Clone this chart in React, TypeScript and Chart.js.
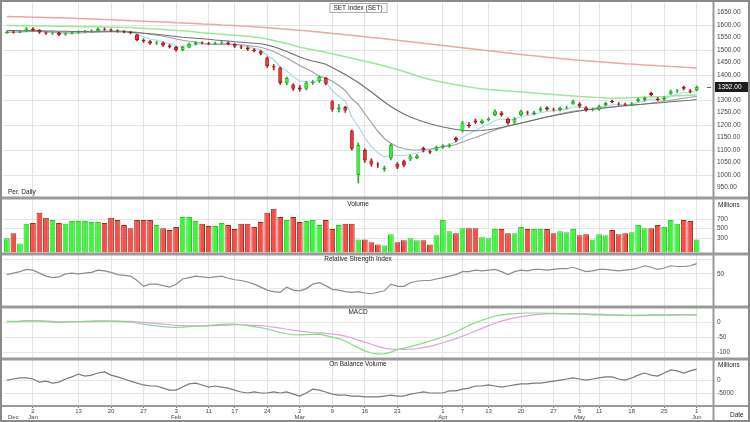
import React, { useEffect, useRef } from "react";
import { Chart, registerables } from "chart.js";

Chart.register(...registerables);

const dates = [
  "2019-12-25","2019-12-26","2019-12-27","2019-12-30",
  "2020-01-02","2020-01-03","2020-01-06","2020-01-07","2020-01-08","2020-01-09","2020-01-10","2020-01-13","2020-01-14","2020-01-15","2020-01-16","2020-01-17","2020-01-20","2020-01-21","2020-01-22","2020-01-23","2020-01-24","2020-01-27","2020-01-28","2020-01-29","2020-01-30","2020-01-31",
  "2020-02-03","2020-02-04","2020-02-05","2020-02-06","2020-02-07","2020-02-11","2020-02-12","2020-02-13","2020-02-14","2020-02-17","2020-02-18","2020-02-19","2020-02-20","2020-02-21","2020-02-24","2020-02-25","2020-02-26","2020-02-27","2020-02-28",
  "2020-03-02","2020-03-03","2020-03-04","2020-03-05","2020-03-06","2020-03-09","2020-03-10","2020-03-11","2020-03-12","2020-03-13","2020-03-16","2020-03-17","2020-03-18","2020-03-19","2020-03-20","2020-03-23","2020-03-24","2020-03-25","2020-03-26","2020-03-27","2020-03-30","2020-03-31",
  "2020-04-01","2020-04-02","2020-04-03","2020-04-07","2020-04-08","2020-04-09","2020-04-10","2020-04-13","2020-04-14","2020-04-15","2020-04-16","2020-04-17","2020-04-20","2020-04-21","2020-04-22","2020-04-23","2020-04-24","2020-04-27","2020-04-28","2020-04-29","2020-04-30",
  "2020-05-05","2020-05-07","2020-05-08","2020-05-11","2020-05-12","2020-05-13","2020-05-14","2020-05-15","2020-05-18","2020-05-19","2020-05-20","2020-05-21","2020-05-22","2020-05-25","2020-05-26","2020-05-27","2020-05-28","2020-05-29",
  "2020-06-01"
];

const opens = [
  1568,1572,1570,1575,1585,1580,1570,1566,1570,1562,
  1566,1570,1573,1575,1577,1585,1582,1578,1575,1572,
  1562,1540,1535,1526,1530,1518,1512,1500,1510,1524,
  1530,1528,1525,1528,1530,1524,1514,1510,1502,1495,
  1470,1435,1430,1366,1362,1350,1345,1368,1375,1388,
  1295,1262,1272,1178,1000,1100,1058,1042,1022,1068,
  1045,1055,1062,1068,1108,1095,1100,1110,1115,1148,
  1175,1200,1218,1208,1220,1240,1250,1225,1210,1240,
  1250,1244,1258,1270,1264,1260,1266,1285,1285,1270,
  1262,1262,1280,1296,1285,1284,1282,1295,1300,1328,
  1305,1302,1325,1334,1352,1338,1340
];
const highs = [
  1576,1576,1577,1590,1590,1582,1573,1572,1572,1569,
  1574,1577,1579,1581,1589,1588,1585,1581,1578,1575,
  1564,1545,1538,1534,1533,1522,1515,1515,1528,1534,
  1533,1531,1532,1534,1533,1526,1518,1513,1506,1498,
  1472,1442,1432,1392,1365,1358,1374,1378,1396,1390,
  1298,1282,1275,1180,1128,1105,1065,1050,1036,1125,
  1050,1060,1080,1082,1112,1100,1116,1122,1125,1152,
  1215,1210,1224,1222,1230,1262,1254,1228,1230,1260,
  1256,1255,1272,1274,1268,1272,1276,1300,1290,1274,
  1268,1280,1292,1300,1290,1288,1290,1308,1312,1332,
  1310,1314,1340,1342,1356,1342,1356
];
const lows = [
  1566,1567,1568,1573,1576,1566,1562,1562,1557,1559,
  1564,1567,1570,1572,1575,1578,1574,1571,1568,1564,
  1536,1530,1522,1522,1514,1508,1495,1497,1508,1520,
  1524,1521,1522,1524,1520,1510,1505,1498,1492,1480,
  1430,1420,1362,1360,1338,1335,1340,1362,1370,1360,
  1255,1252,1250,1100,968,1050,1035,1030,1015,1060,
  1025,1032,1058,1064,1092,1085,1096,1106,1110,1132,
  1172,1190,1205,1204,1216,1236,1235,1202,1206,1236,
  1242,1240,1254,1258,1256,1256,1264,1282,1270,1255,
  1256,1258,1276,1288,1278,1278,1278,1292,1296,1316,
  1296,1298,1322,1330,1340,1328,1336
];
const closes = [
  1572,1570,1574,1586,1580,1570,1566,1568,1561,1566,
  1570,1573,1575,1577,1585,1582,1578,1575,1572,1568,
  1540,1535,1526,1530,1518,1512,1500,1512,1525,1530,
  1528,1525,1528,1530,1524,1514,1510,1502,1496,1485,
  1435,1430,1368,1388,1345,1342,1370,1372,1392,1365,
  1262,1270,1258,1105,1120,1058,1042,1040,1030,1120,
  1030,1038,1075,1078,1098,1090,1112,1118,1120,1138,
  1210,1196,1210,1218,1225,1255,1240,1207,1225,1255,
  1247,1250,1266,1262,1262,1268,1270,1295,1275,1260,
  1263,1275,1288,1292,1283,1282,1286,1303,1308,1320,
  1300,1310,1335,1338,1345,1333,1352
];

const maFast = [
  1571,1571,1572,1577,1578,1575,1572,1571,1567,1567,
  1568,1570,1572,1574,1578,1579,1579,1577,1575,1573,
  1562,1553,1544,1539,1532,1525,1517,1515,1518,1522,
  1524,1524,1525,1527,1526,1522,1518,1513,1507,1500,
  1478,1462,1431,1417,1393,1376,1374,1373,1379,1374,
  1337,1315,1296,1232,1195,1149,1113,1089,1072,1080,
  1078,1078,1082,1088,1095,1100,1106,1115,1122,1132,
  1150,1164,1179,1192,1203,1218,1225,1220,1222,1233,
  1238,1242,1250,1254,1257,1261,1264,1272,1273,1269,
  1267,1270,1276,1281,1282,1282,1283,1290,1296,1304,
  1303,1305,1315,1323,1330,1331,1338
];
const ma10 = [
  1572,1572,1572,1573,1574,1574,1573,1572,1570,1569,
  1568,1568,1569,1570,1572,1573,1574,1575,1575,1574,
  1571,1567,1563,1559,1555,1550,1544,1539,1535,1531,
  1527,1523,1522,1522,1523,1523,1521,1518,1515,1511,
  1503,1494,1481,1468,1453,1438,1425,1412,1395,1388,
  1375,1358,1338,1305,1282,1245,1210,1175,1146,1127,
  1113,1105,1101,1100,1102,1104,1108,1112,1116,1122,
  1132,1142,1150,1160,1170,1180,1188,1195,1201,1207,
  1213,1220,1227,1233,1239,1245,1250,1255,1258,1261,
  1263,1266,1269,1272,1274,1276,1278,1281,1284,1288,
  1291,1295,1299,1303,1307,1311,1315
];
const ma25 = [
  1578,1578,1577,1577,1577,1577,1576,1576,1575,1575,
  1574,1574,1574,1573,1573,1573,1573,1573,1572,1571,
  1569,1567,1565,1563,1560,1557,1554,1551,1549,1547,
  1545,1543,1540,1538,1536,1533,1531,1529,1527,1525,
  1520,1513,1504,1494,1483,1472,1463,1456,1450,1443,
  1430,1416,1402,1386,1370,1351,1332,1312,1292,1274,
  1258,1244,1232,1222,1213,1205,1198,1192,1187,1182,
  1179,1177,1177,1178,1181,1185,1190,1196,1202,1208,
  1214,1220,1226,1232,1237,1242,1247,1252,1256,1260,
  1263,1266,1269,1272,1275,1278,1280,1282,1284,1286,
  1288,1290,1293,1295,1297,1299,1302
];
const ma75 = [
  1598,1598,1597,1597,1597,1596,1596,1596,1595,1595,
  1594,1594,1593,1593,1592,1592,1591,1591,1590,1590,
  1588,1587,1585,1584,1582,1580,1578,1577,1575,1572,
  1569,1567,1565,1563,1561,1559,1557,1555,1552,1549,
  1544,1538,1532,1526,1519,1511,1506,1501,1496,1491,
  1485,1479,1473,1467,1461,1455,1449,1443,1436,1429,
  1422,1414,1406,1397,1389,1382,1376,1371,1366,1361,
  1357,1352,1348,1345,1342,1340,1338,1336,1334,1332,
  1330,1328,1326,1324,1322,1320,1318,1316,1314,1313,
  1311,1310,1308,1307,1307,1308,1309,1310,1311,1312,
  1313,1314,1316,1317,1318,1319,1320
];
const ma200 = [
  1634,1633,1633,1632,1631,1631,1630,1629,1629,1628,
  1627,1626,1625,1624,1623,1622,1621,1620,1619,1617,
  1616,1615,1614,1613,1612,1611,1609,1608,1607,1606,
  1604,1603,1602,1600,1599,1598,1596,1595,1593,1591,
  1589,1587,1585,1583,1581,1579,1577,1574,1572,1569,
  1566,1564,1561,1559,1556,1553,1550,1548,1545,1542,
  1539,1536,1533,1530,1527,1524,1521,1518,1515,1512,
  1509,1506,1503,1500,1497,1494,1491,1488,1485,1482,
  1479,1477,1474,1471,1469,1466,1464,1461,1459,1457,
  1455,1453,1451,1449,1447,1445,1444,1442,1440,1439,
  1437,1436,1434,1433,1431,1430,1428
];

const volumes = [
  300,405,190,600,620,830,725,680,620,600,
  660,660,660,640,640,620,725,680,575,510,
  680,680,680,575,510,470,535,745,745,660,
  600,555,555,620,575,490,600,600,535,640,
  830,915,745,680,745,640,660,680,575,680,
  490,575,600,600,275,275,215,170,150,385,
  215,255,300,255,255,170,360,680,445,405,
  510,510,510,320,300,490,490,405,405,535,
  490,490,490,490,405,445,425,490,360,385,
  275,385,360,470,385,405,425,575,510,510,
  575,535,680,600,680,660,275
];

const rsi = [
  49,51,53,56,55,51,47,45,46,50,
  51,50,51,52,55,54,52,49,48,47,
  41,33,36,36,34,32,36,43,45,47,
  46,45,46,47,44,42,41,39,36,32,
  28,26,25,32,28,27,30,36,38,34,
  29,28,26,25,26,24,23,25,27,36,
  33,33,38,40,41,41,43,45,47,49,
  53,53,55,54,55,56,53,49,53,55,
  54,56,56,55,56,57,57,59,56,53,
  54,56,56,55,54,55,56,58,61,59,
  56,58,61,60,60,61,64
];

const macd = [
  2,2,3,5,5,4,2,0,-1,0,
  1,1,2,3,4,4,3,2,1,0,
  -4,-7,-10,-13,-15,-17,-18,-17,-15,-14,
  -13,-11,-9,-8,-7,-7,-9,-12,-15,-19,
  -23,-29,-35,-39,-42,-43,-42,-41,-40,-45,
  -50,-55,-63,-75,-86,-96,-103,-107,-106,-100,
  -92,-87,-82,-76,-70,-63,-57,-50,-42,-33,
  -22,-11,-2,6,13,20,24,26,28,29,
  30,30,30,29,29,28,27,27,26,25,
  24,24,23,23,23,22,22,23,23,24,
  24,24,24,25,25,24,24
];
const macdSignal = [
  1,1,2,3,3,4,3,2,1,1,
  1,1,1,2,2,3,3,3,2,2,
  1,-1,-3,-5,-7,-9,-11,-12,-13,-13,
  -13,-13,-12,-11,-10,-9,-9,-10,-11,-12,
  -14,-17,-20,-24,-27,-30,-33,-35,-36,-38,
  -40,-43,-47,-53,-60,-67,-74,-81,-87,-90,
  -91,-91,-90,-88,-85,-81,-75,-69,-62,-55,
  -47,-39,-30,-21,-12,-4,3,9,14,18,
  21,24,26,27,28,28,28,28,27,27,
  26,26,25,24,23,22,21,21,21,22,
  22,23,23,23,24,24,24
];

const obv = [
  0,400,800,800,400,-800,-400,-1200,-800,400,
  1200,2300,1500,1900,2700,3100,1900,1200,400,-400,
  -1200,-1900,-2300,-2300,-3100,-3900,-3900,-2700,-1500,-1200,
  -1900,-2700,-2300,-2700,-3100,-3900,-4600,-5000,-4600,-5000,
  -5000,-4600,-5000,-4600,-5400,-6200,-5000,-3500,-3900,-4600,
  -5400,-5800,-5800,-6200,-6200,-6500,-6500,-6500,-6200,-5800,
  -6200,-6200,-5400,-5000,-4600,-5000,-5000,-5000,-4200,-4200,
  -3500,-3100,-2300,-2300,-1900,-2300,-2700,-2300,-1900,-1500,
  -1500,-1200,-1200,-800,-400,0,400,800,400,0,
  400,800,1200,1200,400,0,800,1900,2700,1900,
  1500,2700,3900,3500,2700,3500,4200
];

const priceTicks = [950,1000,1050,1100,1150,1200,1250,1300,1350,1400,1450,1500,1550,1600,1650];
const volumeTicks = [300, 500, 700];
const rsiTicks = [30, 50, 70];
const rsiLabelled = [50];
const macdTicks = [0, -50, -100];
const obvTicks = [0, -5000];
const monthNames = ["Jan","Feb","Mar","Apr","May","Jun","Jul","Aug","Sep","Oct","Nov","Dec"];
const titlePrice = "SET Index (SET)";
const titleVolume = "Volume";
const titleRsi = "Relative Strength Index";
const titleMacd = "MACD";
const titleObv = "On Balance Volume";

const FONT = "'Liberation Sans', Arial, sans-serif";

export default function App() {
  const ref = useRef<HTMLCanvasElement>(null);

  useEffect(() => {
    document.body.style.margin = "0";
    const canvas = ref.current;
    if (!canvas) return;

    const parsed = dates.map((d) => new Date(d + "T00:00:00Z"));
    const isMonthStart = (i: number) =>
      i === 0 || parsed[i].getUTCMonth() !== parsed[i - 1].getUTCMonth();
    const isWeekStart = (i: number) =>
      i > 0 &&
      (parsed[i].getUTCDay() < parsed[i - 1].getUTCDay() ||
        parsed[i].getTime() - parsed[i - 1].getTime() >= 7 * 864e5);
    const monthIdx = dates.map((_, i) => i).filter(isMonthStart);
    const weekIdx = dates
      .map((_, i) => i)
      .filter((i) => isWeekStart(i) && !isMonthStart(i))
      .filter((i) => monthIdx.every((m) => Math.abs(m - i) > 2));
    const xTicks = [...monthIdx, ...weekIdx].filter((i) => i > 0).sort((a, b) => a - b);
    const firstMonth = monthNames[parsed[0].getUTCMonth()];
    const xLabel = (v: number) => {
      const i = Math.round(v);
      const d = parsed[i];
      const top = String(d.getUTCDate());
      const bottom = isMonthStart(i) ? monthNames[d.getUTCMonth()] : "";
      return [top, bottom];
    };

    const up = closes.map((c, i) => c >= opens[i]);
    const pts = (arr: number[]) => arr.map((v, i) => ({ x: i, y: v }));

    const line = (label: string, data: number[], color: string, axis: string, width = 1.2) => ({
      type: "line" as const,
      label,
      data: pts(data),
      yAxisID: axis,
      borderColor: color,
      borderWidth: width,
      pointRadius: 0,
      tension: 0,
      order: 5,
    });

    const tickFont = { size: 6.5, family: FONT };
    const yScale = (
      min: number,
      max: number,
      weight: number,
      ticks: number[],
      fmt: (v: number) => string,
      gridFn?: (v: number) => string
    ) => ({
      type: "linear" as const,
      position: "right" as const,
      stack: "panels",
      stackWeight: weight,
      min,
      max,
      afterFit: (s: any) => {
        s.width = 37;
        s.paddingTop = 0;
        s.paddingBottom = 0;
      },
      afterBuildTicks: (s: any) => {
        s.ticks = ticks.map((v) => ({ value: v }));
      },
      ticks: {
        autoSkip: false,
        font: tickFont,
        color: "#444",
        padding: 4,
        crossAlign: "near" as const,
        callback: (v: any) => fmt(Number(v)),
      },
      grid: {
        drawTicks: false,
        color: (ctx: any) => (gridFn ? gridFn(ctx.tick ? ctx.tick.value : 0) : "#e6e6e6"),
      },
      border: { display: false },
    });

    const overlay = {
      id: "overlay",
      beforeDraw(chart: any) {
        const c = chart.ctx;
        c.save();
        c.fillStyle = "#ffffff";
        c.fillRect(0, 0, chart.width, chart.height);
        c.restore();
      },
      afterDraw(chart: any) {
        const c = chart.ctx;
        const a = chart.chartArea;
        const s = chart.scales;
        const W = chart.width;
        const H = chart.height;
        c.save();
        const cx = (a.left + a.right) / 2;

        // panel separators
        c.strokeStyle = "#9a9a9a";
        c.lineWidth = 3;
        ["yP", "yV", "yR", "yM"].forEach((id) => {
          const y = s[id].bottom;
          c.beginPath();
          c.moveTo(0, y);
          c.lineTo(W, y);
          c.stroke();
        });
        c.lineWidth = 2;
        c.beginPath();
        c.moveTo(0, a.bottom);
        c.lineTo(W, a.bottom);
        c.stroke();
        c.beginPath();
        c.moveTo(a.right + 0.5, 0);
        c.lineTo(a.right + 0.5, H);
        c.stroke();
        c.lineWidth = 2;
        c.strokeStyle = "#8a8a8a";
        c.strokeRect(1, 1, W - 2, H - 2);

        // panel titles
        c.font = `6.5px ${FONT}`;
        c.textBaseline = "middle";
        c.textAlign = "center";
        const tw = c.measureText(titlePrice).width;
        c.fillStyle = "#ffffff";
        c.fillRect(cx - tw / 2 - 4, a.top, tw + 8, 9);
        c.strokeStyle = "#b0b0b0";
        c.lineWidth = 1;
        c.strokeRect(cx - tw / 2 - 4 + 0.5, a.top + 0.5, tw + 8, 9);
        c.fillStyle = "#222";
        c.fillText(titlePrice, cx, a.top + 5);
        c.fillText(titleVolume, cx, s.yV.top + 6);
        c.fillText(titleRsi, cx, s.yR.top + 5);
        c.fillText(titleMacd, cx, s.yM.top + 5);
        c.fillText(titleObv, cx, s.yO.top + 5);

        // axis captions
        c.textAlign = "left";
        c.fillText("Millions", a.right + 5, s.yV.top + 7);
        c.fillText("Millions", a.right + 5, s.yO.top + 6);
        c.fillText("Date", a.right + 17, H - 7);
        c.fillText("Per. Daily", a.left + 5, s.yP.bottom - 6);
        c.font = `6px ${FONT}`;
        c.fillStyle = "#444";
        c.fillText(firstMonth, a.left + 5, H - 5);

        // last price marker
        c.font = `6.5px ${FONT}`;
        const last = closes[closes.length - 1];
        const py = s.yP.getPixelForValue(last);
        c.fillStyle = "#1c1c1c";
        c.fillRect(a.right + 2, py - 5, W - a.right - 4, 10);
        c.fillStyle = "#ffffff";
        c.fillText(last.toFixed(2), a.right + 5, py);
        c.strokeStyle = "#666";
        c.lineWidth = 1;
        c.beginPath();
        c.moveTo(a.right - 6, py + 0.5);
        c.lineTo(a.right - 2, py + 0.5);
        c.stroke();
        c.restore();
      },
    };

    const chart = new Chart(canvas, {
      type: "bar",
      data: {
        datasets: [
          {
            type: "bar",
            label: "Wick",
            data: dates.map((_, i) => ({ x: i, y: [lows[i], highs[i]] })),
            yAxisID: "yP",
            backgroundColor: up.map((u) => (u ? "#2aa52a" : "#b02020")),
            barThickness: 1,
            grouped: false,
            order: 3,
          } as any,
          {
            type: "bar",
            label: "Body",
            data: dates.map((_, i) => ({ x: i, y: [opens[i], closes[i]] })),
            yAxisID: "yP",
            backgroundColor: up.map((u) => (u ? "#3cf03c" : "#ee3030")),
            borderColor: up.map((u) => (u ? "#22b022" : "#9a1a1a")),
            borderWidth: 1,
            borderSkipped: false,
            barPercentage: 0.62,
            categoryPercentage: 1,
            grouped: false,
            order: 1,
          } as any,
          line("MA200", ma200, "#f2a4a4", "yP", 1.5),
          line("MA75", ma75, "#9ae89a", "yP", 1.5),
          line("MA25", ma25, "#6e6e6e", "yP", 1.2),
          line("MA10", ma10, "#a0a0a0", "yP", 1.2),
          line("MA5", maFast, "#a6d8ee", "yP", 1.2),
          {
            type: "bar",
            label: "Volume",
            data: pts(volumes),
            yAxisID: "yV",
            backgroundColor: up.map((u) => (u ? "#3cf53c" : "#ff4a4a")),
            borderColor: up.map((u) => (u ? "#30c830" : "#8a3418")),
            borderWidth: 1,
            barPercentage: 0.88,
            categoryPercentage: 1,
            grouped: false,
            order: 2,
          } as any,
          line("RSI", rsi, "#8c8c8c", "yR", 1.2),
          line("MACD", macd, "#86dc86", "yM", 1.2),
          line("Signal", macdSignal, "#e2a2dc", "yM", 1.2),
          line("OBV", obv, "#7a7a7a", "yO", 1.2),
        ] as any,
      },
      options: {
        responsive: false,
        animation: false,
        devicePixelRatio: 1,
        layout: { autoPadding: false, padding: { left: 3, top: 3, right: 0, bottom: 0 } },
        plugins: { legend: { display: false }, tooltip: { enabled: false } },
        scales: {
          x: {
            type: "linear",
            offset: false,
            min: -0.6,
            max: 108.5,
            afterBuildTicks: (s: any) => {
              s.ticks = xTicks.map((v) => ({ value: v }));
            },
            afterFit: (s: any) => {
              s.height = 16;
              s.paddingLeft = 0;
              s.paddingRight = 0;
            },
            ticks: {
              autoSkip: false,
              maxRotation: 0,
              font: { size: 6, family: FONT, lineHeight: 1.05 },
              color: "#444",
              padding: 0,
              callback: (v: any) => xLabel(Number(v)),
            },
            grid: {
              offset: false,
              color: "#e4e4e4",
              tickColor: "#777",
              tickLength: 2,
            },
            border: { display: false },
          },
          yP: yScale(908, 1688, 195, priceTicks, (v) => v.toFixed(2), (v) =>
            v % 100 === 0 ? "#e4e4e4" : "rgba(0,0,0,0)"
          ),
          yV: yScale(-30, 1140, 56, volumeTicks, (v) => String(v)),
          yR: yScale(5, 77, 53, rsiTicks, (v) => (rsiLabelled.includes(v) ? String(v) : "")),
          yM: yScale(-123, 50, 52, macdTicks, (v) => String(v)),
          yO: yScale(-10000, 8100, 47, obvTicks, (v) => String(v)),
        } as any,
      },
      plugins: [overlay],
    });

    return () => chart.destroy();
  }, []);

  return (
    <canvas
      ref={ref}
      width={750}
      height={422}
      style={{ display: "block", width: 750, height: 422 }}
    />
  );
}
